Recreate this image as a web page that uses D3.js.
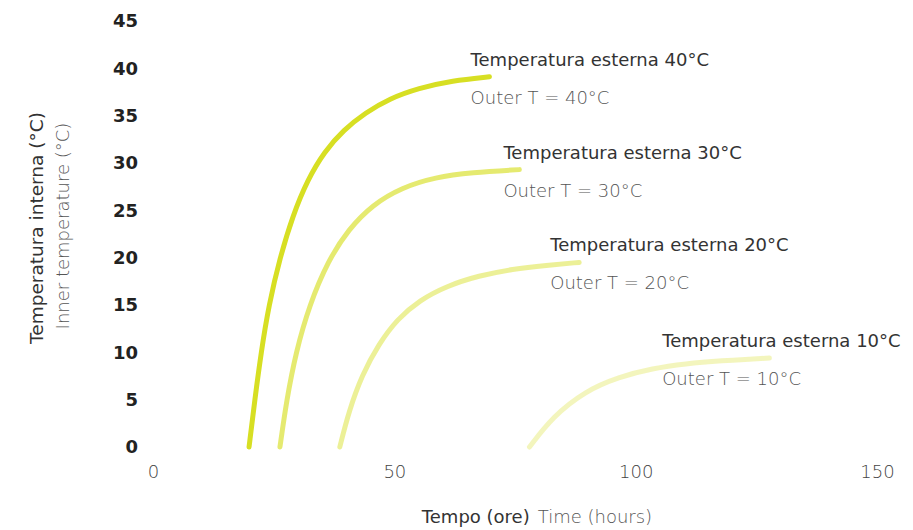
<!DOCTYPE html>
<html><head><meta charset="utf-8">
<script src="https://cdn.jsdelivr.net/npm/d3@7"></script>
<style>
body{margin:0;background:#fff;}
text{font-family:"DejaVu Sans",sans-serif;}
</style></head>
<body><svg id="c" width="913" height="530"></svg>
<script>
// Data
const outerTemps = [40, 30, 20, 10];
const titlesIt = ["Temperatura esterna 40°C","Temperatura esterna 30°C","Temperatura esterna 20°C","Temperatura esterna 10°C"];
const titlesEn = ["Outer T = 40°C","Outer T = 30°C","Outer T = 20°C","Outer T = 10°C"];
const labelTime = [65.8, 72.6, 82.3, 105.5];
const time40 = [19.9,21.1,22.4,24.0,26.3,29.0,32.0,35.5,39.5,44.0,49.0,55.0,62.0,69.7];
const temp40 = [0,5.0,10.0,15.0,20.0,24.5,28.2,31.2,33.5,35.3,36.8,37.9,38.7,39.1];
const time30 = [26.3,27.7,29.6,32.4,36.3,40.5,45.5,51.5,58.5,66.0,75.9];
const temp30 = [0,5.0,10.0,15.0,19.7,23.0,25.6,27.4,28.5,29.0,29.3];
const time20 = [38.7,40.6,43.3,46.8,50.6,55.2,60.8,67.5,74.5,81.5,88.3];
const temp20 = [0,3.8,7.6,10.9,13.5,15.5,17.0,18.1,18.8,19.2,19.5];
const time10 = [78.0,82.8,89.5,96.5,103.5,110.4,117.3,127.7];
const temp10 = [0,3.2,5.9,7.4,8.3,8.8,9.1,9.4];
const xTicks = [0,50,100,150];
const yTicks = [0,5,10,15,20,25,30,35,40,45];
const seriesTime = [time40, time30, time20, time10];
const seriesTemp = [temp40, temp30, temp20, temp10];

const svg = d3.select("#c");
const x = d3.scaleLinear().domain([0,150]).range([153,877]);
const y = d3.scaleLinear().domain([0,45]).range([447,21]);

// Y axis
const ya = svg.append("g").attr("transform","translate(138,0)")
  .call(d3.axisLeft(y).tickValues(yTicks).tickSize(0).tickPadding(0));
ya.select(".domain").remove();
ya.selectAll("text").attr("font-family","'DejaVu Sans',sans-serif").attr("font-size",18)
  .attr("font-weight",700).attr("fill","#222");

// X axis
const xa = svg.append("g").attr("transform","translate(0,465)")
  .call(d3.axisBottom(x).tickValues(xTicks).tickSize(0).tickPadding(0));
xa.select(".domain").remove();
xa.selectAll("text").attr("font-family","'DejaVu Sans',sans-serif").attr("font-size",18)
  .attr("font-weight",200).attr("fill","#444");

// Axis titles
const xt = svg.append("text").attr("x",537).attr("y",523).attr("text-anchor","middle").attr("font-size",18);
xt.append("tspan").attr("fill","#333").text("Tempo (ore)");
xt.append("tspan").attr("fill","#555").attr("dx",8).attr("font-weight",200).text("Time (hours)");

svg.append("text").attr("transform","translate(43,228) rotate(-90)").attr("text-anchor","middle")
  .attr("font-size",18.5).attr("fill","#333").text("Temperatura interna (°C)");
svg.append("text").attr("transform","translate(69,226) rotate(-90)").attr("text-anchor","middle")
  .attr("font-size",18).attr("fill","#555").attr("font-weight",200).text("Inner temperature (°C)");

// Curves
const opac = [1, 0.65, 0.47, 0.3];
const line = d3.line().x(d=>x(d[0])).y(d=>y(d[1])).curve(d3.curveBasis);
seriesTime.forEach((ts,i)=>{
  const pts = ts.map((t,j)=>[t, seriesTemp[i][j]]);
  svg.append("path").datum(pts).attr("d",line).attr("fill","none")
    .attr("stroke","#d7df23").attr("stroke-opacity",opac[i]).attr("stroke-width",5)
    .attr("stroke-linecap","round");
  const last = pts[pts.length-1];
  svg.append("text").attr("x",x(labelTime[i])).attr("y",y(last[1])-11)
    .attr("font-size",18).attr("fill","#333").text(titlesIt[i]);
  svg.append("text").attr("x",x(labelTime[i])).attr("y",y(last[1])+27)
    .attr("font-size",18).attr("fill","#555").attr("font-weight",200).text(titlesEn[i]);
});
</script></body></html>
